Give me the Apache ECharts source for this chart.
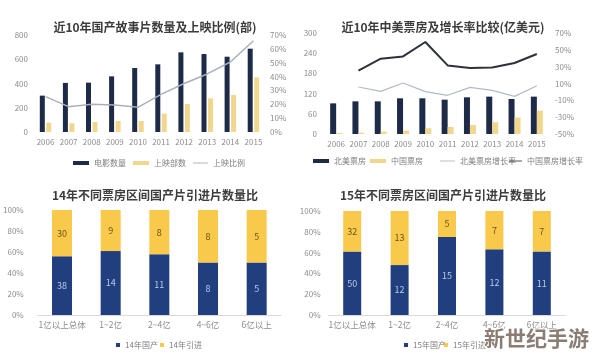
<!DOCTYPE html>
<html>
<head>
<meta charset="utf-8">
<style>
html,body{margin:0;padding:0;background:#fff;}
#c{width:594px;height:357px;}
</style>
<script src="https://cdn.jsdelivr.net/npm/echarts@6/dist/echarts.min.js"></script>
</head>
<body>
<div id="c"></div>
<script>
// ---- Chart 1: domestic feature films ----
const years = ['2006','2007','2008','2009','2010','2011','2012','2013','2014','2015'];
const filmCount = [300, 405, 407, 459, 528, 558, 657, 643, 621, 687];
const releasedCount = [77, 72, 82, 91, 91, 151, 231, 278, 305, 451];
const releaseRatio = [25.5, 18.3, 20.0, 19.5, 17.8, 27.2, 35.0, 41.9, 50.5, 65.9];

// ---- Chart 2: China vs North America box office ----
const naBox = [91, 97, 97, 106, 106, 102, 109, 111, 104, 111];
const cnBox = [3, 4, 7, 10, 17, 21, 27, 35, 49, 69];
const naGrowth = [null, 5.8, 0.6, 10.6, 0.3, -4.0, 5.4, 1.8, -5.3, 7.4];
const cnGrowth = [null, 25.2, 39.5, 42.2, 59.3, 31.5, 28.4, 29.1, 34.4, 45.0];
const growthTicks = [-50, -30, -10, 10, 30, 50, 70];

// ---- Charts 3 & 4: domestic vs imported by box office range ----
const ranges = ['1亿以上总体', '1~2亿', '2~4亿', '4~6亿', '6亿以上'];
const domestic14 = [38, 14, 11, 8, 5];
const imported14 = [30, 9, 8, 8, 5];
const domestic15 = [50, 12, 15, 12, 11];
const imported15 = [32, 13, 5, 7, 7];

const pct = (a, b) => a.map((v, i) => v / (v + b[i]) * 100);

const FONT = '"Noto Sans CJK SC", "Noto Sans", sans-serif';
const AX = '#8c8c8c';
const NAVY_T = '#1d2a48';
const YEL_T = '#f1d68e';
const NAVY_B = '#213f7f';
const YEL_B = '#f8c94b';
const lineIcon = 'path://M0,0h16v1h-16z';

function cat(gridIndex, data, showLine, size) {
  return {
    type: 'category', gridIndex, data,
    axisLine: {show: showLine, lineStyle: {color: '#d9d9d9'}},
    axisTick: {show: false},
    axisLabel: {color: AX, fontSize: size, fontFamily: FONT, margin: 6, interval: 0}
  };
}
function val(gridIndex, opts) {
  return Object.assign({
    type: 'value', gridIndex,
    splitLine: {show: false},
    axisLine: {show: false}, axisTick: {show: false},
  }, opts);
}
function leg(left, top, name, icon, w, h) {
  return {
    left, top, itemWidth: w, itemHeight: h, itemGap: 0, itemTextGap: 3,
    data: [{name, icon}],
    textStyle: {color: '#808080', fontSize: 8, fontFamily: FONT},
    selectedMode: false
  };
}
const titleStyle = {fontSize: 12, fontWeight: 'bold', color: '#3c3c3c', fontFamily: FONT};

const option = {
  animation: false,
  backgroundColor: '#fff',
  textStyle: {fontFamily: FONT},
  title: [
    {text: '近10年国产故事片数量及上映比例(部)', left: 150, top: 16, textAlign: 'center', textStyle: titleStyle},
    {text: '近10年中美票房及增长率比较(亿美元)', left: 438, top: 16, textAlign: 'center', textStyle: titleStyle},
    {text: '14年不同票房区间国产片引进片数量比', left: 150, top: 184, textAlign: 'center', textStyle: titleStyle},
    {text: '15年不同票房区间国产片引进片数量比', left: 438, top: 184, textAlign: 'center', textStyle: titleStyle}
  ],
  legend: [
    leg(68, 154, '电影数量', 'rect', 16, 4),
    leg(128, 154, '上映部数', 'rect', 16, 4),
    leg(188, 154, '上映比例', lineIcon, 15, 4),
    leg(308, 152, '北美票房', 'rect', 16, 4),
    leg(365, 152, '中国票房', 'rect', 16, 4),
    leg(435, 152, '北美票房增长率', lineIcon, 15, 4),
    leg(504, 152, '中国票房增长率', lineIcon, 13, 4),
    leg(111, 336, '14年国产', 'rect', 4, 4),
    leg(155, 336, '14年引进', 'rect', 4, 4),
    leg(399, 336, '15年国产', 'rect', 4, 4),
    leg(439, 336, '15年引进', 'rect', 4, 4)
  ],
  grid: [
    {left: 34, top: 35, width: 231, height: 97},
    {left: 325, top: 33, width: 223, height: 101},
    {left: 37, top: 210, width: 244, height: 105},
    {left: 328.5, top: 211, width: 237, height: 104}
  ],
  xAxis: [
    cat(0, years, false, 8),
    cat(1, years, false, 8),
    cat(2, ranges, true, 8.5),
    cat(3, ranges, true, 8.5)
  ],
  yAxis: [
    val(0, {min: 0, max: 800, interval: 200, axisLabel: {color: AX, fontSize: 8, margin: 6}}),
    val(0, {min: 0, max: 70, interval: 10, position: 'right', axisLabel: {color: AX, fontSize: 8, margin: 5, formatter: '{value}%'}}),
    val(1, {min: 0, max: 300, interval: 60, axisLabel: {color: AX, fontSize: 8, margin: 8}}),
    val(1, {min: -50, max: 70, position: 'right', alignTicks: false,
      axisLabel: {color: AX, fontSize: 8, margin: 7, formatter: '{value}%', customValues: growthTicks},
      axisTick: {show: false, customValues: growthTicks}}),
    val(2, {min: 0, max: 100, interval: 20, axisLabel: {color: AX, fontSize: 8, margin: 14, formatter: '{value}%'}}),
    val(3, {min: 0, max: 100, interval: 20, axisLabel: {color: AX, fontSize: 8, margin: 8, formatter: '{value}%'}})
  ],
  series: [
    {name: '电影数量', type: 'bar', xAxisIndex: 0, yAxisIndex: 0, data: filmCount,
     barWidth: 5, barGap: '30%', itemStyle: {color: NAVY_T}},
    {name: '上映部数', type: 'bar', xAxisIndex: 0, yAxisIndex: 0, data: releasedCount,
     barWidth: 5, barGap: '30%', itemStyle: {color: YEL_T}},
    {name: '上映比例', type: 'line', xAxisIndex: 0, yAxisIndex: 1, data: releaseRatio,
     showSymbol: false, symbol: 'none', lineStyle: {color: '#a9b0bb', width: 1.5}, itemStyle: {color: '#a9b0bb'}},

    {name: '北美票房', type: 'bar', xAxisIndex: 1, yAxisIndex: 2, data: naBox,
     barWidth: 6, barGap: '0%', itemStyle: {color: NAVY_T}},
    {name: '中国票房', type: 'bar', xAxisIndex: 1, yAxisIndex: 2, data: cnBox,
     barWidth: 6, barGap: '0%', itemStyle: {color: YEL_T}},
    {name: '北美票房增长率', type: 'line', xAxisIndex: 1, yAxisIndex: 3, data: naGrowth,
     showSymbol: false, symbol: 'none', lineStyle: {color: '#b4bac4', width: 1.2}, itemStyle: {color: '#b4bac4'}},
    {name: '中国票房增长率', type: 'line', xAxisIndex: 1, yAxisIndex: 3, data: cnGrowth,
     showSymbol: false, symbol: 'none', lineStyle: {color: '#2e3138', width: 2}, itemStyle: {color: '#2e3138'}},

    {name: '14年国产', type: 'bar', stack: 's14', xAxisIndex: 2, yAxisIndex: 4, data: pct(domestic14, imported14),
     barWidth: 20, itemStyle: {color: NAVY_B},
     label: {show: true, position: 'inside', color: '#b9c8ea', fontSize: 9, formatter: p => domestic14[p.dataIndex]}},
    {name: '14年引进', type: 'bar', stack: 's14', xAxisIndex: 2, yAxisIndex: 4, data: pct(imported14, domestic14),
     barWidth: 20, itemStyle: {color: YEL_B},
     label: {show: true, position: 'inside', color: '#6b531a', fontSize: 9, formatter: p => imported14[p.dataIndex]}},

    {name: '15年国产', type: 'bar', stack: 's15', xAxisIndex: 3, yAxisIndex: 5, data: pct(domestic15, imported15),
     barWidth: 18, itemStyle: {color: NAVY_B},
     label: {show: true, position: 'inside', color: '#b9c8ea', fontSize: 9, formatter: p => domestic15[p.dataIndex]}},
    {name: '15年引进', type: 'bar', stack: 's15', xAxisIndex: 3, yAxisIndex: 5, data: pct(imported15, domestic15),
     barWidth: 18, itemStyle: {color: YEL_B},
     label: {show: true, position: 'inside', color: '#6b531a', fontSize: 9, formatter: p => imported15[p.dataIndex]}}
  ],
  graphic: [
    {type: 'text', left: 483, top: 327, z: 100,
     style: {text: '新世纪手游', fill: '#8a7d74', font: 'bold 21px "Noto Sans CJK SC"', stroke: '#ffffff', lineWidth: 2}}
  ]
};

const chart = echarts.init(document.getElementById('c'), null, {renderer: 'canvas'});
chart.setOption(option);
</script>
</body>
</html>
